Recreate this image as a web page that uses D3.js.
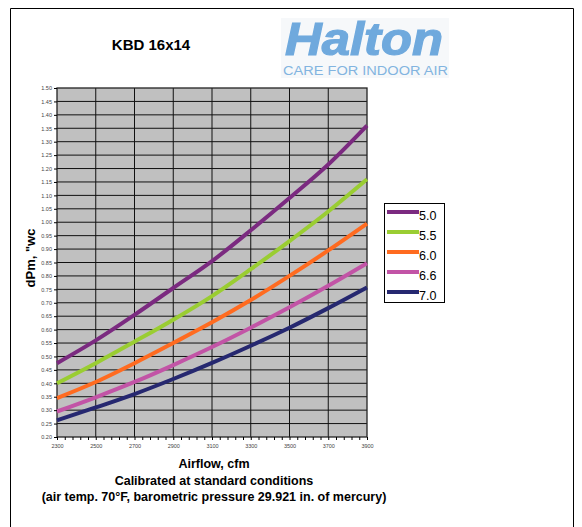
<!DOCTYPE html>
<html>
<head>
<meta charset="utf-8">
<script src="https://cdn.jsdelivr.net/npm/d3@7"></script>
<style>
  body { margin: 0; background: #fff; }
  svg { display: block; font-family: Arial, "Liberation Sans", sans-serif; }
</style>
</head>
<body>
<svg id="chart" width="582" height="527"></svg>
<script>
// airflow, cfm
const airflow = [2300, 2500, 2700, 2900, 3100, 3300, 3500, 3700, 3900]
// pressure drop per curve, "wc
const series = ["5.0", "5.5", "6.0", "6.6", "7.0"]
const dp50 = [0.475, 0.56, 0.655, 0.755, 0.855, 0.97, 1.09, 1.215, 1.36]
const dp55 = [0.40, 0.475, 0.555, 0.637, 0.725, 0.825, 0.93, 1.04, 1.16]
const dp60 = [0.345, 0.405, 0.475, 0.55, 0.627, 0.71, 0.80, 0.895, 0.995]
const dp66 = [0.295, 0.348, 0.405, 0.468, 0.535, 0.607, 0.683, 0.763, 0.847]
const dp70 = [0.262, 0.31, 0.36, 0.416, 0.476, 0.54, 0.607, 0.68, 0.757]
const colors = ["#7b2a80", "#9acd32", "#ff6b20", "#c254a6", "#262870"]
const xTicks = [2300, 2500, 2700, 2900, 3100, 3300, 3500, 3700, 3900]
const yTicks = d3.range(0, 27).map(i => +(0.20 + i * 0.05).toFixed(2))

const values = [dp50, dp55, dp60, dp66, dp70]

const svg = d3.select("#chart")

// outer frame
svg.append("path")
    .attr("d", "M10.5,530 V8.5 H573.5 V530")
    .attr("fill", "none").attr("stroke", "#000").attr("stroke-width", 1)

// logo
svg.append("rect").attr("x", 281).attr("y", 18).attr("width", 168).attr("height", 60).attr("fill", "#f6f8fa")
svg.append("text").attr("x", 285).attr("y", 55)
    .attr("font-size", 46).attr("font-weight", "bold").attr("font-style", "italic")
    .attr("fill", "#6fa9dd").attr("stroke", "#6fa9dd").attr("stroke-width", 1.2)
    .attr("textLength", 158).attr("lengthAdjust", "spacingAndGlyphs")
    .text("Halton")
svg.append("text").attr("x", 283).attr("y", 75)
    .attr("font-size", 12.5).attr("fill", "#82b4e0")
    .attr("textLength", 165).attr("lengthAdjust", "spacingAndGlyphs")
    .text("CARE FOR INDOOR AIR")

svg.append("text").attr("x", 151).attr("y", 50).attr("text-anchor", "middle")
    .attr("font-size", 15).attr("font-weight", "bold").text("KBD 16x14")

const x = d3.scaleLinear().domain([2300, 3900]).range([57, 367])
const y = d3.scaleLinear().domain([0.20, 1.50]).range([437, 88])

const g = svg.append("g")
g.append("rect").attr("x", 57).attr("y", 88).attr("width", 310).attr("height", 349).attr("fill", "#c0c0c0")

// grid
g.selectAll(".hg").data(yTicks.slice(1, -1)).join("line")
    .attr("x1", 57).attr("x2", 367).attr("y1", d => y(d)).attr("y2", d => y(d))
    .attr("stroke", "#111").attr("stroke-width", 1)
g.selectAll(".vg").data(xTicks.slice(1, -1)).join("line")
    .attr("y1", 88).attr("y2", 437).attr("x1", d => x(d)).attr("x2", d => x(d))
    .attr("stroke", "#111").attr("stroke-width", 1)

g.append("rect").attr("x", 57).attr("y", 88).attr("width", 310).attr("height", 349)
    .attr("fill", "none").attr("stroke", "#222").attr("stroke-width", 1.3)

// axes
const yAxis = d3.axisLeft(y).tickValues(yTicks).tickSize(3).tickPadding(2).tickFormat(d3.format(".2f"))
const ya = svg.append("g").attr("transform", "translate(57,0)").call(yAxis)
const xAxis = d3.axisBottom(x).tickValues(d3.range(2300, 3901, 40)).tickSize(3).tickPadding(4)
    .tickFormat(d => xTicks.includes(d) ? d : "")
const xa = svg.append("g").attr("transform", "translate(0,437)").call(xAxis)
for (const a of [ya, xa]) {
    a.select(".domain").remove()
    a.selectAll("line").attr("stroke", "#000")
    a.selectAll("text").attr("font-size", 5.5).attr("fill", "#444")
}

// curves
const line = d3.line().x((d, i) => x(airflow[i])).y(d => y(d)).curve(d3.curveMonotoneX)
values.forEach((v, k) => {
    g.append("path").datum(v).attr("d", line)
        .attr("fill", "none").attr("stroke", colors[k]).attr("stroke-width", 4)
})

// legend
const lg = svg.append("g")
lg.append("rect").attr("x", 384.5).attr("y", 203.5).attr("width", 60).attr("height", 99)
    .attr("fill", "#fff").attr("stroke", "#000").attr("stroke-width", 1)
series.forEach((s, k) => {
    const yy = 212 + k * 20
    lg.append("line").attr("x1", 387).attr("x2", 419).attr("y1", yy).attr("y2", yy)
        .attr("stroke", colors[k]).attr("stroke-width", 4)
    lg.append("text").attr("x", 419).attr("y", yy + 8).attr("font-size", 12.5).text(s)
})

// axis titles
svg.append("text").attr("transform", "translate(35,258) rotate(-90)")
    .attr("text-anchor", "middle").attr("font-size", 13).attr("font-weight", "bold")
    .text("dPm, \"wc")
const notes = ["Airflow, cfm", "Calibrated at standard conditions",
    "(air temp. 70°F, barometric pressure 29.921 in. of mercury)"]
notes.forEach((t, i) => {
    svg.append("text").attr("x", 214).attr("y", 468 + i * 16.5).attr("text-anchor", "middle")
        .attr("font-size", 12.5).attr("font-weight", "bold").text(t)
})
</script>
</body>
</html>
